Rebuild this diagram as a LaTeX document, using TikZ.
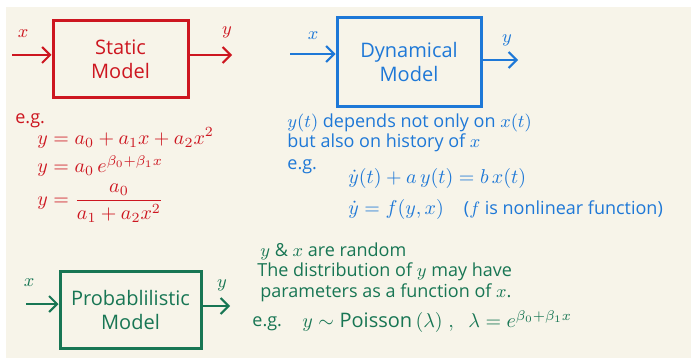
\documentclass[tikz,border=0pt]{standalone}
\usepackage{amsmath}
\usepackage{fontspec}
\setmainfont{Open Sans}
\usetikzlibrary{arrows.meta, positioning}
\definecolor{inkred}{RGB}{205,22,32}
\definecolor{inkblue}{RGB}{30,120,215}
\definecolor{inkgreen}{RGB}{24,118,84}
\definecolor{paper}{RGB}{247,244,233}

\begin{document}
\begin{tikzpicture}[
  x=0.5pt, y=-0.5pt,
  every node/.style={font=\small, inner sep=1pt},
  modelbox/.style={rectangle, draw, line width=1.5pt, align=center,
                   font=\normalsize, inner sep=2pt},
  arr/.style={-{Straight Barb[length=4pt, width=8pt]}, line width=1pt},
  note/.style={anchor=west, align=left},
  eqn/.style={anchor=west, font=\normalsize, inner sep=0pt}
]
  \useasboundingbox (0,0) rectangle (691,358);
  \fill[paper] (6,7) rectangle (691,358);

  % static model
  \node[modelbox, inkred, minimum width=67.5pt, minimum height=38.5pt] (static) at (120.5,59.5) {Static\\Model};
  \coordinate (sin) at (12,55);
  \coordinate (sout) at (232,55);
  \draw[arr, inkred] (sin) -- (sin -| static.west);
  \draw[arr, inkred] (static.east |- sout) -- (sout);
  \node[inkred] (sx) at (23,34) {$x$};
  \node[inkred] (sy) at (227,32) {$y$};

  \node[note, inkred] (seg) at (13,121) {e.g.};
  \node[eqn, inkred] (seq1) at (37,138) {$y = a_0 + a_1x + a_2x^2$};
  \node[eqn, inkred] (seq2) at (37,166) {$y = a_0\,e^{\beta_0 + \beta_1 x}$};
  \node[eqn, inkred] (seq3) at (37,203) {$y = \dfrac{a_0}{a_1 + a_2x^2}$};

  % dynamical model
  \node[modelbox, inkblue, minimum width=72pt, minimum height=44.5pt] (dyn) at (409,62.5) {Dynamical\\Model};
  \coordinate (din) at (290,54);
  \coordinate (dout) at (518,60);
  \draw[arr, inkblue] (din) -- (din -| dyn.west);
  \draw[arr, inkblue] (dyn.east |- dout) -- (dout);
  \node[inkblue] (dx) at (313,36) {$x$};
  \node[inkblue] (dy) at (507,40) {$y$};

  \node[note, inkblue] (dtxt1) at (285,123) {$y(t)$ depends not only on $x(t)$};
  \node[note, inkblue] (dtxt2) at (285,143) {but also on history of $x$};
  \node[note, inkblue] (deg) at (285,167) {e.g.};
  \node[eqn, inkblue] (deq1) at (348,179) {$\dot{y}(t) + a\,y(t) = b\,x(t)$};
  \node[eqn, inkblue] (deq2) at (348,209) {$\dot{y} = f(y, x)$\quad\small($f$ is nonlinear function)};

  % probabilistic model
  \node[modelbox, inkgreen, minimum width=70.5pt, minimum height=38.5pt] (prob) at (130.5,309.5) {Probablilistic\\Model};
  \coordinate (pin) at (26,304);
  \coordinate (pout) at (230,306);
  \draw[arr, inkgreen] (pin) -- (pin -| prob.west);
  \draw[arr, inkgreen] (prob.east |- pout) -- (pout);
  \node[inkgreen] (px) at (29,283) {$x$};
  \node[inkgreen] (py) at (222,285) {$y$};

  \node[note, inkgreen] (ptxt1) at (258,251) {$y$ \& $x$ are random};
  \node[note, inkgreen] (ptxt2) at (255,272) {The distribution of $y$ may have};
  \node[note, inkgreen] (ptxt3) at (258,293) {parameters as a function of $x$.};
  \node[note, inkgreen] (peg) at (250,324) {e.g.};
  \node[eqn, inkgreen] (peq) at (302,322) {$y \sim \text{Poisson}\,(\lambda)\;,\;\; \lambda = e^{\beta_0 + \beta_1 x}$};
\end{tikzpicture}
\end{document}
